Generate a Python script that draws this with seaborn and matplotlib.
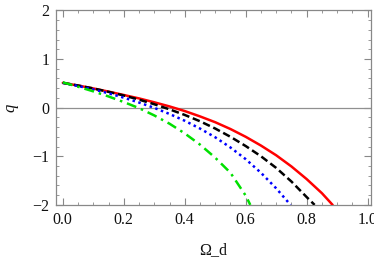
import numpy as np
import pandas as pd
import matplotlib
matplotlib.use("Agg")
import matplotlib.pyplot as plt
import seaborn as sns
from matplotlib.ticker import MultipleLocator, FixedLocator

# ---- data ----
red_x = [0.0, 0.05, 0.1, 0.15, 0.2, 0.25, 0.3, 0.35, 0.4, 0.45, 0.5, 0.55, 0.6, 0.65, 0.7, 0.75, 0.8, 0.85, 0.885]
red_q = [0.51, 0.455, 0.395, 0.33, 0.26, 0.19, 0.11, 0.025, -0.07, -0.18, -0.30, -0.44, -0.60, -0.78, -0.98, -1.21, -1.47, -1.76, -2.0]

black_x = [0.0, 0.05, 0.1, 0.15, 0.2, 0.25, 0.3, 0.35, 0.4, 0.45, 0.5, 0.55, 0.6, 0.65, 0.7, 0.75, 0.8, 0.826]
black_q = [0.51, 0.455, 0.395, 0.325, 0.25, 0.165, 0.07, -0.035, -0.15, -0.28, -0.43, -0.60, -0.79, -1.00, -1.24, -1.52, -1.84, -2.0]

blue_x = [0.0, 0.05, 0.1, 0.15, 0.2, 0.25, 0.3, 0.35, 0.4, 0.45, 0.5, 0.55, 0.6, 0.65, 0.7, 0.747]
blue_q = [0.51, 0.445, 0.375, 0.295, 0.205, 0.105, -0.005, -0.13, -0.27, -0.43, -0.61, -0.82, -1.06, -1.34, -1.66, -2.0]

green_x = [0.0, 0.05, 0.1, 0.15, 0.2, 0.25, 0.3, 0.35, 0.4, 0.45, 0.5, 0.55, 0.6, 0.615]
green_q = [0.52, 0.43, 0.335, 0.23, 0.115, -0.01, -0.16, -0.33, -0.53, -0.76, -1.03, -1.34, -1.81, -2.0]

x_ticks = [0.0, 0.2, 0.4, 0.6, 0.8, 1.0]
x_tick_labels = ["0.0", "0.2", "0.4", "0.6", "0.8", "1.0"]
y_ticks = [-2, -1, 0, 1, 2]
y_tick_labels = ["\u22122", "\u22121", "0", "1", "2"]

series_names = ["red", "black", "blue", "green"]
series_colors = {"red": "#ff0000", "black": "#000000", "blue": "#0000ff", "green": "#00e000"}
series_dashes = {"red": "", "black": (3.0, 1.5), "blue": (1.0, 1.4), "green": (4.0, 2.0, 1.0, 2.0)}

frames = []
for name, xs, qs in [("red", red_x, red_q), ("black", black_x, black_q),
                     ("blue", blue_x, blue_q), ("green", green_x, green_q)]:
    frames.append(pd.DataFrame({"Omega_d": xs, "q": qs, "series": name}))
df = pd.concat(frames, ignore_index=True)

# ---- styling ----
sns.set_theme(style="ticks")
plt.rcParams["font.family"] = ["Liberation Serif", "DejaVu Serif"]
plt.rcParams["mathtext.fontset"] = "stix"

fig = plt.figure(figsize=(3.74, 2.60), dpi=100)
ax = fig.add_axes([0.150, 0.212, 0.842, 0.748])

ax.axhline(0, color="#909090", lw=0.9, zorder=1)

sns.lineplot(data=df, x="Omega_d", y="q", hue="series", style="series",
             hue_order=series_names, style_order=series_names,
             palette=series_colors, dashes=series_dashes, sort=False,
             linewidth=1.8, legend=False, ax=ax, zorder=3)

ax.set_xlim(-0.022, 1.011)
ax.set_ylim(-2, 2)

frame_col = "#888888"
for sp in ax.spines.values():
    sp.set_color(frame_col)
    sp.set_linewidth(0.9)
    sp.set_visible(True)

ax.xaxis.set_major_locator(FixedLocator(x_ticks))
ax.set_xticklabels(x_tick_labels)
ax.xaxis.set_minor_locator(MultipleLocator(0.05))
ax.yaxis.set_major_locator(FixedLocator(y_ticks))
ax.set_yticklabels(y_tick_labels)
ax.yaxis.set_minor_locator(MultipleLocator(0.2))

ax.tick_params(which="both", direction="in", top=True, right=True,
               color=frame_col, labelsize=11.5, labelcolor="#111111")
ax.tick_params(which="major", length=5, width=0.8, pad=5)
ax.tick_params(which="minor", length=2.5, width=0.6)

ax.set_xlabel("\u03a9_d", fontsize=11.5, labelpad=10, color="#111111")
ax.set_ylabel("q", fontsize=12, style="italic", labelpad=10, color="#111111")

fig.savefig("out.png", dpi=100)
